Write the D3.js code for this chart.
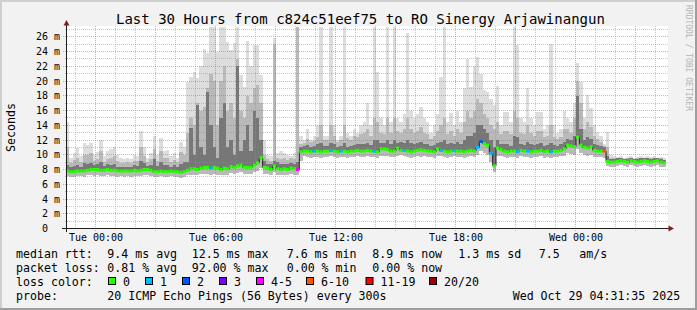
<!DOCTYPE html>
<html><head><meta charset="utf-8">
<script src="https://cdn.jsdelivr.net/npm/d3@7"></script>
<style>
body{margin:0;background:#f2f2f2;overflow:hidden}
svg{display:block}
text{font-family:"DejaVu Sans Mono",monospace;fill:#000}
</style>
</head><body><svg id="c" width="697" height="310"></svg>
<script>
// ---- DATA (10-minute steps, 30 hours, 6 values per hour) ----
const med = [
7.8,7.7,7.7,7.8,7.8,7.8, 7.9,8.0,8.0,8.0,7.9,7.9, 8.0,7.9,7.9,7.8,7.8,7.8,
7.8,7.8,7.9,7.8,7.9,8.0, 8.0,7.9,7.7,7.7,7.8,7.7, 7.7,7.8,7.7,7.7,7.6,7.7,
7.9,8.1,8.1,8.0,8.2,8.3, 8.3,8.2,8.3,8.2,8.0,8.2, 8.1,8.4,8.3,8.5,8.6,8.3,
8.3,8.3,8.6,8.9,9.6,8.3, 8.2,8.0,8.5,8.1,8.0,8.1, 8.0,8.2,8.1,8.0,10.4,10.5,
10.5,10.4,10.5,10.5,10.4,10.5, 10.5,10.6,10.5,10.4,10.5,10.5, 10.4,10.5,10.5,10.6,10.5,10.5,
10.6,10.5,10.5,10.4,10.8,10.8, 10.7,10.5,10.5,10.9,10.6,10.6, 10.5,10.4,10.5,10.6,10.7,10.6,
10.5,10.5,10.4,10.8,10.6,10.5, 10.4,10.5,10.6,10.5,10.5,10.4, 10.5,10.6,10.5,11.0,11.8,11.5,
11.3,10.2,8.5,10.9,10.7,10.5, 10.4,10.5,10.5,10.4,10.6,10.5, 10.5,10.4,10.5,10.5,10.6,10.4,
10.5,10.4,10.5,10.5,10.6,10.8, 11.3,11.2,11.1,12.4,11.3,11.0, 10.9,11.1,10.6,10.5,10.5,10.5,
9.1,9.0,9.0,9.1,9.2,9.1, 9.0,9.2,9.1,9.0,9.1,9.2, 9.1,9.0,9.1,9.2,9.0,8.9
];
const lo = [
7.1,7.0,7.0,7.1,7.1,7.0, 7.2,7.2,7.1,7.2,7.1,7.1, 7.2,7.1,7.1,7.0,7.1,7.0,
7.1,7.0,7.1,7.1,7.1,7.2, 7.2,7.1,7.0,7.0,7.1,7.0, 7.0,7.1,7.0,7.0,6.9,7.0,
7.2,7.3,7.3,7.2,7.4,7.4, 7.4,7.3,7.4,7.3,7.2,7.3, 7.3,7.5,7.4,7.5,7.6,7.4,
7.4,7.4,7.6,7.8,8.2,7.4, 7.4,7.3,7.6,7.3,7.3,7.3, 7.3,7.4,7.3,7.3,9.2,9.8,
9.7,9.6,9.7,9.7,9.6,9.7, 9.7,9.8,9.7,9.6,9.7,9.7, 9.6,9.7,9.7,9.8,9.7,9.7,
9.8,9.7,9.7,9.6,9.8,9.9, 9.9,9.7,9.7,9.8,10.0,9.8, 9.7,9.6,9.7,9.8,9.7,9.8,
9.7,9.7,9.6,9.9,9.8,9.7, 9.6,9.7,9.8,9.7,9.7,9.6, 9.7,9.8,9.7,10.0,10.5,10.3,
10.0,9.0,7.6,9.8,9.8,9.7, 9.6,9.7,9.7,9.6,9.8,9.7, 9.7,9.6,9.7,9.7,9.8,9.6,
9.7,9.6,9.7,9.7,9.8,9.9, 10.2,10.1,10.0,10.8,10.2,10.0, 9.9,10.0,9.7,9.7,9.7,9.6,
8.5,8.4,8.4,8.5,8.6,8.5, 8.4,8.6,8.5,8.4,8.5,8.6, 8.5,8.4,8.5,8.6,8.4,8.3
];
const dark = [
8.6,8.3,8.5,8.6,8.4,8.9, 8.8,8.9,8.6,8.7,9.0,8.5, 8.7,8.6,8.8,8.4,8.3,8.4,
8.4,8.3,8.6,8.5,9.2,8.9, 8.5,8.6,9.4,8.5,9.0,8.6, 8.6,8.4,8.6,8.3,8.8,9.0,
9.0,13.6,10.0,16.7,11.0,10.0, 18.5,14.0,11.0,9.5,15.0,17.0, 11.0,12.0,10.0,22.0,10.5,12.0,
14.0,10.5,16.0,15.0,12.0,9.2, 8.8,8.7,9.2,9.0,8.8,8.8, 8.8,8.9,8.8,9.0,11.0,11.2,
11.3,11.1,11.2,11.4,11.6,11.2, 11.2,11.6,11.4,11.1,11.2,11.6, 11.1,11.2,11.3,11.4,11.5,11.5,
11.6,11.3,12.0,12.0,11.6,11.6, 12.0,11.4,12.0,11.6,11.8,11.6, 12.0,11.6,11.4,11.6,11.8,11.5,
11.4,11.2,11.3,11.6,11.8,12.0, 11.4,11.6,11.4,11.8,11.5,12.0, 12.5,12.5,13.0,14.0,14.0,13.5,
13.0,12.0,11.0,12.0,11.4,11.4, 11.4,11.2,12.6,12.4,11.4,11.3, 11.8,11.4,11.3,11.5,11.6,11.2,
11.3,11.6,11.3,11.2,11.4,11.8, 12.2,12.0,12.6,18.0,13.5,12.0, 12.4,12.2,11.5,11.3,11.2,11.0,
9.8,9.4,9.4,9.5,9.5,9.4, 9.4,9.5,9.4,9.4,9.5,9.5, 9.5,9.4,9.5,9.5,9.4,9.3
];
const mid = [
11.0,8.9,9.3,9.5,9.0,10.0, 10.0,10.2,9.2,9.4,10.5,9.0, 9.4,9.6,9.8,9.2,8.9,8.9,
9.0,8.9,9.2,9.1,11.0,9.8, 9.0,9.4,10.8,9.2,10.5,9.5, 9.6,9.0,9.3,9.0,10.4,10.0,
13.0,15.0,14.0,17.0,16.0,16.5, 19.0,21.0,20.0,14.0,20.0,22.0, 16.0,17.0,15.0,23.0,16.0,15.0,
18.0,17.0,19.0,19.5,17.0,10.0, 9.4,9.2,25.0,9.6,9.4,9.5, 9.3,9.5,9.4,27.4,11.5,11.6,
12.2,11.8,11.9,12.4,14.0,12.0, 12.0,14.0,12.6,11.8,12.0,14.0, 12.3,12.0,12.5,12.4,12.8,13.0,
13.5,12.6,15.0,14.5,13.0,12.8, 15.0,13.0,15.0,13.2,13.0,13.5, 15.0,13.5,13.0,13.2,13.8,13.0,
12.8,12.2,12.6,13.2,14.0,15.0, 12.8,13.2,12.6,13.5,13.0,14.5, 16.0,15.0,16.0,17.5,17.0,15.5,
15.0,14.0,13.5,14.5,12.8,13.2, 13.2,12.8,16.0,15.0,13.0,12.8, 14.0,13.0,12.6,13.2,13.2,12.4,
12.6,14.0,12.4,12.2,12.4,13.5, 13.5,13.0,15.0,20.0,17.0,13.5, 14.5,13.8,12.6,12.2,11.8,11.2,
11.0,9.6,9.5,9.5,9.6,9.4, 9.5,9.6,9.4,9.5,9.6,9.5, 9.6,9.5,9.6,9.4,9.5,9.3
];
const hi = [
14.5,9.5,10.2,10.9,9.8,11.6, 11.3,11.6,10.0,10.4,12.0,9.8, 10.5,10.8,11.0,10.0,9.5,9.4,
9.6,9.4,10.0,9.8,13.2,11.0, 9.6,10.2,12.5,10.0,12.3,10.5, 10.7,9.8,10.2,9.6,11.8,11.0,
19.9,20.5,21.2,20.4,22.0,24.3, 23.8,27.4,27.4,24.0,27.4,27.4, 25.3,24.2,25.1,27.4,20.8,19.2,
25.5,22.0,24.9,24.9,20.8,12.0, 10.0,9.8,25.8,10.2,10.5,10.2, 10.0,9.8,10.2,27.4,12.5,12.0,
13.5,12.0,12.5,14.0,27.4,12.5, 12.5,27.4,14.0,12.0,12.5,27.4, 13.0,12.5,13.5,13.0,14.0,14.5,
17.0,14.0,27.4,21.2,15.0,14.0, 27.4,14.5,27.4,15.0,14.5,15.5, 26.5,16.0,15.0,15.5,16.5,15.0,
14.5,13.0,14.0,15.5,20.6,27.4, 14.5,15.6,14.0,16.0,14.5,19.0, 23.0,19.2,22.0,23.3,21.0,18.8,
18.5,17.5,16.7,19.3,14.0,15.8, 15.8,14.5,27.4,24.9,15.0,14.5, 19.0,15.0,14.0,15.8,15.8,13.5,
14.0,25.0,14.0,13.0,13.5,16.0, 15.0,14.5,17.0,22.4,19.9,15.0, 18.1,16.3,14.0,13.1,12.5,11.5,
13.1,10.0,9.8,9.7,9.8,9.6, 9.7,9.8,9.6,9.7,9.8,9.7, 9.8,9.7,9.8,9.6,9.7,9.5
];
const loss = [
0,0,0,0,0,0, 0,0,0,0,0,0, 0,0,0,0,0,0, 0,0,0,0,0,0, 0,0,0,0,0,0, 0,0,0,0,0,0,
0,0,0,0,0,0, 0,1,0,0,0,0, 0,0,0,0,0,0, 0,0,0,0,0,0, 0,0,0,0,0,0, 0,0,0,4,0,0,
0,0,1,0,0,0, 0,1,0,0,1,0, 0,0,0,0,0,0, 0,0,1,0,0,0, 0,0,0,0,0,1, 0,0,0,0,0,0,
0,0,0,0,1,0, 0,0,1,0,0,0, 0,0,0,1,2,0, 0,1,0,0,0,0, 0,0,0,1,0,0, 1,0,0,0,0,0,
0,1,0,0,0,0, 0,0,0,0,0,0, 0,0,0,0,0,6, 0,0,0,0,0,0, 0,0,0,0,0,0, 0,0,0,0,0,0
];
const lossLabels = ["0","1","2","3","4-5","6-10","11-19","20/20"];
const lossColors = ["#26ff00","#00b8ff","#0059ff","#7e00ff","#ff00ff","#ff5500","#ff0000","#a00000"];
const yTicks = [0,2,4,6,8,10,12,14,16,18,20,22,24,26];
const statRows = [
  ["median rtt:", "9.4 ms avg", "12.5 ms max", "7.6 ms min", "8.9 ms now", "1.3 ms sd", "7.5", "am/s"],
  ["packet loss:", "0.81 % avg", "92.00 % max", "0.00 % min", "0.00 % now"]
];
const probeText = ["probe:", "20 ICMP Echo Pings (56 Bytes) every 300s", "Wed Oct 29 04:31:35 2025"];
const title = "Last 30 Hours from c824c51eef75 to RO Sinergy Arjawinangun";

// ---- CHART ----
const W = 697, H = 310;
const svg = d3.select("#c");
svg.append("rect").attr("width", W).attr("height", H).attr("fill", "#f2f2f2");
svg.append("rect").attr("x",0).attr("y",0).attr("width",W).attr("height",2).attr("fill","#cfcfcf");
svg.append("rect").attr("x",0).attr("y",0).attr("width",2).attr("height",H).attr("fill","#cfcfcf");
svg.append("rect").attr("x",0).attr("y",H-2).attr("width",W).attr("height",2).attr("fill","#9e9e9e");
svg.append("rect").attr("x",W-2).attr("y",0).attr("width",2).attr("height",H).attr("fill","#9e9e9e");

const t0 = new Date(2025, 9, 27, 22, 31, 35), t1 = new Date(2025, 9, 29, 4, 31, 35);
const x = d3.scaleTime().domain([t0, t1]).range([66, 666]);
const YMAX = 27.4;
const y = d3.scaleLinear().domain([0, YMAX]).range([228.5, 26.5]);
const cx0 = 66, cx1 = 668, cy0 = 26, cy1 = 228;

svg.append("rect").attr("x", cx0).attr("y", cy0).attr("width", cx1 - cx0).attr("height", cy1 - cy0 + 1).attr("fill", "#fff");
svg.append("clipPath").attr("id", "cp").append("rect").attr("x", cx0).attr("y", cy0).attr("width", cx1 - cx0).attr("height", cy1 - cy0);

const pts = med.map((m, i) => ({t: new Date(+t0 + i * 600000), med: m, lo: lo[i], dk: dark[i], md: mid[i], hi: hi[i], loss: loss[i]}));
const ptsE = pts.concat([Object.assign({}, pts[pts.length - 1], {t: t1})]);
const cl = v => Math.min(v, YMAX);

const g = svg.append("g").attr("clip-path", "url(#cp)");
const area = (a, b) => d3.area().curve(d3.curveStepAfter).x(d => x(d.t)).y0(d => y(cl(a(d)))).y1(d => y(cl(b(d))));
g.append("path").datum(ptsE).attr("d", area(d => d.lo, d => d.hi)).attr("fill", "#dddddd").attr("shape-rendering", "crispEdges");
g.append("path").datum(ptsE).attr("d", area(d => d.lo, d => d.md)).attr("fill", "#b9b9b9").attr("shape-rendering", "crispEdges");
g.append("path").datum(ptsE).attr("d", area(d => d.med, d => d.dk)).attr("fill", "#777777").attr("shape-rendering", "crispEdges");

// grid
const gg = svg.append("g");
const minorC = "rgba(143,143,143,0.5)", majorC = "rgba(222,79,79,0.5)";
const px = v => Math.round(v - 0.5) + 0.5;
for (let v = 1; v <= 27; v++) {
  const yy = px(y(v));
  const major = v % 2 === 0;
  gg.append("line").attr("x1", major ? 63 : 65).attr("x2", cx1).attr("y1", yy).attr("y2", yy)
    .attr("stroke", major ? majorC : minorC).attr("stroke-dasharray", "1,1");
}
x.ticks(d3.timeHour.every(1)).forEach(t => {
  const xx = px(x(t));
  const major = t.getHours() % 3 === 0;
  gg.append("line").attr("x1", xx).attr("x2", xx).attr("y1", cy0).attr("y2", major ? 231 : 230)
    .attr("stroke", major ? majorC : minorC).attr("stroke-dasharray", "1,1");
});

// median line
const lineG = svg.append("g").attr("clip-path", "url(#cp)");
lineG.append("path").datum(ptsE).attr("d", d3.line().curve(d3.curveStepAfter).x(d => x(d.t)).y(d => y(d.med)))
  .attr("fill", "none").attr("stroke", "#202020").attr("stroke-width", 1);
const lossClass = n => n === 0 ? 0 : n === 1 ? 1 : n === 2 ? 2 : n === 3 ? 3 : n <= 5 ? 4 : n <= 10 ? 5 : n <= 19 ? 6 : 7;
pts.forEach((d, i) => {
  const xa = x(d.t), xb = x(ptsE[i + 1].t);
  lineG.append("line").attr("x1", xa).attr("x2", xb).attr("y1", y(d.med)).attr("y2", y(d.med))
    .attr("stroke", lossColors[lossClass(d.loss)]).attr("stroke-width", 3);
});

// axes
const axisC = "#1f1f1f", arrowC = "#801f1f";
svg.append("line").attr("x1", 66.5).attr("x2", 66.5).attr("y1", 232).attr("y2", 24).attr("stroke", axisC);
svg.append("line").attr("x1", 62).attr("x2", 670).attr("y1", 228.5).attr("y2", 228.5).attr("stroke", axisC);
svg.append("path").attr("d", "M63.5,25.5L66.5,20L69.5,25.5Z").attr("fill", arrowC);
svg.append("path").attr("d", "M668.5,225.5L674,228.5L668.5,231.5Z").attr("fill", arrowC);

// y tick labels
yTicks.forEach(v => {
  svg.append("text").attr("x", v === 0 ? 48 : 60).attr("y", px(y(v)) + 3.6)
    .attr("text-anchor", "end").attr("font-size", 10).text(v === 0 ? "0" : v + " m");
});
// x tick labels
x.ticks(d3.timeHour.every(6)).forEach(t => {
  svg.append("text").attr("x", px(x(t)) + 0.5).attr("y", 241).attr("text-anchor", "middle")
    .attr("font-size", 10).text(d3.timeFormat("%a %H:%M")(t));
});

// title & side labels
svg.append("text").attr("x", 116).attr("y", 24).attr("font-size", 14).text(title);
svg.append("text").attr("transform", "translate(15,127.5) rotate(-90)").attr("text-anchor", "middle")
  .attr("font-size", 11.6).text("Seconds");
svg.append("text").attr("transform", "translate(685.5,5) rotate(90)").attr("font-size", 8)
  .style("fill", "#b4b4b4").text("RRDTOOL / TOBI OETIKER");

// legend
const fs = 11.6;
const colX = [16, 107.3, 191.7, 286.7, 372.3, 458.3, 538.7, 579.3];
statRows.forEach((row, r) => {
  row.forEach((s, j) => {
    svg.append("text").attr("x", colX[j]).attr("y", 258 + r * 14).attr("font-size", fs).text(s);
  });
});
svg.append("text").attr("x", 16).attr("y", 286).attr("font-size", fs).text("loss color:");
const boxX = [108.5, 145.5, 182.5, 219.5, 256.5, 306.5, 366, 429.5];
lossLabels.forEach((l, i) => {
  svg.append("rect").attr("x", boxX[i]).attr("y", 277.5).attr("width", 7).attr("height", 7)
    .attr("fill", lossColors[i]).attr("stroke", "#000").attr("stroke-width", 1);
  svg.append("text").attr("x", boxX[i] + 14.5).attr("y", 286).attr("font-size", fs).text(l);
});
svg.append("text").attr("x", 16).attr("y", 300).attr("font-size", fs).text(probeText[0]);
svg.append("text").attr("x", 107.3).attr("y", 300).attr("font-size", fs).text(probeText[1]);
svg.append("text").attr("x", 512.7).attr("y", 300).attr("font-size", fs).text(probeText[2]);
</script>
</body></html>
